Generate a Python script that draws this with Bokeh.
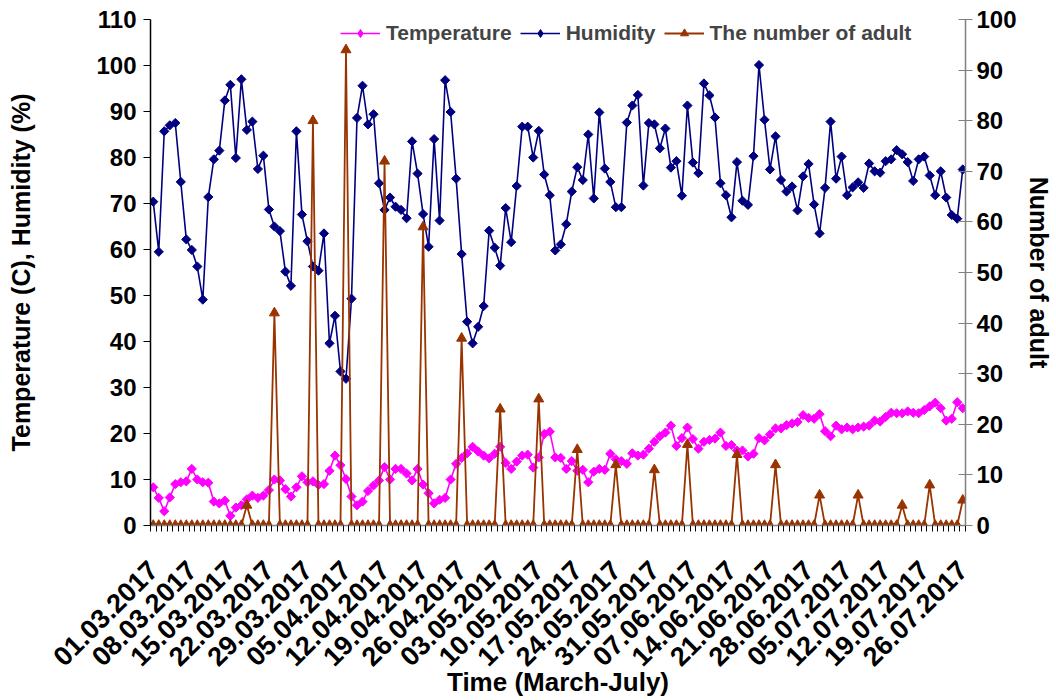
import math
from bokeh.plotting import figure
from bokeh.models import Range1d, LinearAxis, FixedTicker, Legend, LegendItem
from bokeh.embed import file_html
from bokeh.resources import INLINE

# ---------------- data ----------------
tick_labels = ["01.03.2017", "08.03.2017", "15.03.2017", "22.03.2017", "29.03.2017",
               "05.04.2017", "12.04.2017", "19.04.2017", "26.04.2017", "03.05.2017",
               "10.05.2017", "17.05.2017", "24.05.2017", "31.05.2017", "07.06.2017",
               "14.06.2017", "21.06.2017", "28.06.2017", "05.07.2017", "12.07.2017",
               "19.07.2017", "26.07.2017"]

temperature = [
    8.3, 6.0, 3.1, 6.1, 9.0, 9.4, 9.6, 12.3, 10.0, 9.4,
    9.3, 5.2, 4.8, 5.4, 2.1, 3.9, 4.4, 5.7, 6.5, 6.0,
    6.5, 7.7, 10.0, 9.8, 7.9, 6.3, 8.3, 10.7, 9.4, 9.6,
    8.8, 9.0, 11.9, 15.2, 13.1, 10.1, 6.3, 4.4, 5.2, 7.5,
    8.7, 9.8, 12.7, 10.0, 12.3, 12.3, 11.3, 9.8, 12.3, 8.9,
    7.0, 4.8, 5.6, 6.0, 10.0, 13.4, 14.7, 15.7, 17.1, 16.1,
    15.2, 14.6, 15.6, 17.1, 13.6, 12.3, 13.9, 15.2, 15.4, 12.6,
    14.8, 19.9, 20.4, 14.8, 14.7, 12.3, 14.0, 11.9, 12.1, 9.4,
    11.7, 12.3, 12.1, 15.6, 14.4, 14.0, 13.4, 15.7, 15.2, 15.4,
    16.7, 18.2, 19.4, 20.2, 21.7, 17.3, 19.0, 21.3, 18.8, 16.7,
    18.2, 18.6, 18.9, 20.2, 17.3, 17.5, 16.3, 16.3, 15.0, 15.6,
    19.0, 18.5, 19.8, 21.1, 21.1, 21.8, 22.2, 22.5, 24.0, 23.4,
    23.2, 24.2, 20.5, 19.4, 21.7, 20.9, 21.3, 20.9, 21.3, 21.5,
    21.7, 22.8, 22.6, 23.6, 24.5, 24.4, 24.4, 24.8, 24.5, 24.4,
    25.1, 25.9, 26.7, 25.5, 22.8, 23.2, 26.8, 25.5]

humidity = [
    70.4, 59.5, 85.7, 87.0, 87.5, 74.7, 62.2, 59.9, 56.3, 49.1,
    71.4, 79.6, 81.5, 92.4, 95.8, 79.9, 97.0, 86.0, 87.8, 77.5,
    80.4, 68.7, 65.0, 64.0, 55.2, 52.1, 85.7, 67.6, 61.8, 56.3,
    55.4, 63.5, 39.6, 45.6, 33.5, 31.9, 49.3, 88.6, 95.6, 87.2,
    89.4, 74.4, 68.6, 71.3, 69.3, 68.6, 66.8, 83.5, 76.5, 67.7,
    60.6, 84.0, 66.3, 96.8, 89.9, 75.4, 59.0, 44.3, 39.6, 43.2,
    47.7, 64.1, 60.4, 56.5, 69.0, 61.6, 73.8, 86.7, 86.7, 80.0,
    85.8, 76.3, 71.8, 59.8, 61.1, 65.5, 72.6, 77.9, 75.1, 85.0,
    71.1, 89.8, 77.6, 74.7, 69.2, 69.2, 87.6, 91.3, 93.6, 73.9,
    87.5, 87.2, 82.0, 86.3, 77.8, 79.2, 71.7, 91.3, 78.9, 76.6,
    96.1, 93.5, 88.7, 74.4, 71.8, 67.0, 79.0, 70.6, 69.7, 80.3,
    100.1, 88.2, 77.4, 84.6, 75.1, 72.6, 73.7, 68.5, 75.9, 78.6,
    69.8, 63.5, 73.4, 87.8, 75.4, 80.2, 71.8, 73.5, 74.6, 73.4,
    78.7, 77.0, 76.7, 79.2, 79.6, 81.6, 80.7, 79.0, 74.9, 79.6,
    80.2, 76.1, 71.8, 77.0, 71.3, 67.5, 66.7, 77.4]

adults = [
    0, 0, 0, 0, 0, 0, 0, 0, 0, 0,
    0, 0, 0, 0, 0, 0, 0, 4, 0, 0,
    0, 0, 42, 0, 0, 0, 0, 0, 0, 80,
    0, 0, 0, 0, 0, 94, 0, 0, 0, 0,
    0, 0, 72, 0, 0, 0, 0, 0, 0, 59,
    0, 0, 0, 0, 0, 0, 37, 0, 0, 0,
    0, 0, 0, 23, 0, 0, 0, 0, 0, 0,
    25, 0, 0, 0, 0, 0, 0, 15, 0, 0,
    0, 0, 0, 0, 12, 0, 0, 0, 0, 0,
    0, 11, 0, 0, 0, 0, 0, 16, 0, 0,
    0, 0, 0, 0, 0, 0, 14, 0, 0, 0,
    0, 0, 0, 12, 0, 0, 0, 0, 0, 0,
    0, 6, 0, 0, 0, 0, 0, 0, 6, 0,
    0, 0, 0, 0, 0, 0, 4, 0, 0, 0,
    0, 8, 0, 0, 0, 0, 0, 5]

days = list(range(len(humidity)))                  # one category per day
label_pos = [7 * k for k in range(len(tick_labels))]  # a label every 7th day

FONT = "Liberation Sans"
C_TEMP = "#FF00FF"
C_HUM = "#000080"
C_AD = "#993300"

W, H = 1056, 700
p = figure(width=W, height=H, output_backend="svg", toolbar_location=None,
           x_range=Range1d(-0.5, len(days) - 0.5), y_range=Range1d(0, 110),
           min_border_left=150, min_border_right=91, min_border_top=19,
           min_border_bottom=170)
p.extra_y_ranges = {"adult": Range1d(0, 100)}
p.outline_line_color = None
p.xgrid.visible = False
p.ygrid.visible = False
p.background_fill_color = "white"
p.border_fill_color = "white"

# ---- left axis
ya = p.yaxis[0]
ya.ticker = FixedTicker(ticks=list(range(0, 111, 10)))
ya.axis_label = "Temperature (C), Humidity (%)"
ya.axis_line_color = "black"
ya.major_tick_line_color = "black"
ya.major_tick_out = 7
ya.major_tick_in = 0
ya.minor_tick_out = 0
ya.minor_tick_in = 0
ya.major_label_standoff = 7
ya.axis_label_standoff = 58

# ---- right axis
ra = LinearAxis(y_range_name="adult", ticker=FixedTicker(ticks=list(range(0, 101, 10))),
                axis_label="Number of adult")
ra.axis_line_color = "#808080"
ra.major_tick_line_color = "#808080"
ra.major_tick_out = 7
ra.major_tick_in = 7
ra.minor_tick_out = 0
ra.minor_tick_in = 0
ra.major_label_standoff = 4
ra.axis_label_standoff = 5
p.add_layout(ra, "right")

# ---- bottom axis
xa = p.xaxis[0]
xa.ticker = FixedTicker(ticks=label_pos, minor_ticks=[d - 0.5 for d in days] + [len(days) - 0.5])
xa.major_label_overrides = {pos: lab for pos, lab in zip(label_pos, tick_labels)}
xa.major_label_orientation = math.pi / 4
xa.axis_label = "Time (March-July)"
xa.axis_line_color = "#808080"
xa.major_tick_out = 0
xa.major_tick_in = 0
xa.minor_tick_line_color = "black"
xa.minor_tick_out = 6
xa.minor_tick_in = 0
xa.major_label_standoff = 34
xa.axis_label_standoff = -10

for ax in (ya, ra, xa):
    ax.major_label_text_font = FONT
    ax.major_label_text_font_style = "bold"
    ax.major_label_text_font_size = "24px"
    ax.major_label_text_color = "black"
    ax.axis_label_text_font = FONT
    ax.axis_label_text_font_style = "bold"
    ax.axis_label_text_font_size = "25px"
    ax.axis_label_text_color = "black"
    ax.axis_line_width = 1.5
xa.major_label_text_font_size = "27px"
xa.axis_label_text_font_size = "26px"

# ---- series
l_t = p.line(days, temperature, line_color=C_TEMP, line_width=1.6)
s_t = p.scatter(days, temperature, marker="square", angle=math.pi / 4, size=6.5,
                fill_color=C_TEMP, line_color=C_TEMP)
l_h = p.line(days, humidity, line_color=C_HUM, line_width=1.6)
s_h = p.scatter(days, humidity, marker="square", angle=math.pi / 4, size=6.5,
                fill_color=C_HUM, line_color=C_HUM)
l_a = p.line(days, adults, line_color=C_AD, line_width=1.8, y_range_name="adult")
s_a = p.scatter(days, adults, marker="triangle", size=10, fill_color=C_AD,
                line_color=C_AD, y_range_name="adult")

# hidden diamond renderers on the same data, used only as legend keys
k_t = p.scatter(days, temperature, marker="diamond", size=14,
                fill_color=C_TEMP, line_color=C_TEMP, visible=False)
k_h = p.scatter(days, humidity, marker="diamond", size=14,
                fill_color=C_HUM, line_color=C_HUM, visible=False)

legend = Legend(items=[
    LegendItem(label="Temperature", renderers=[l_t, k_t]),
    LegendItem(label="Humidity", renderers=[l_h, k_h]),
    LegendItem(label="The number of adult", renderers=[l_a, s_a]),
], orientation="horizontal", location=(190, 480))
legend.label_text_font = FONT
legend.label_text_font_style = "bold"
legend.label_text_font_size = "21px"
legend.glyph_width = 40
legend.glyph_height = 20
legend.label_standoff = 6
legend.spacing = 8
legend.padding = 0
legend.margin = 0
legend.border_line_color = None
legend.background_fill_alpha = 0
legend.inactive_fill_alpha = 0
p.add_layout(legend, "center")

open("out.html", "w").write(file_html(p, INLINE))
